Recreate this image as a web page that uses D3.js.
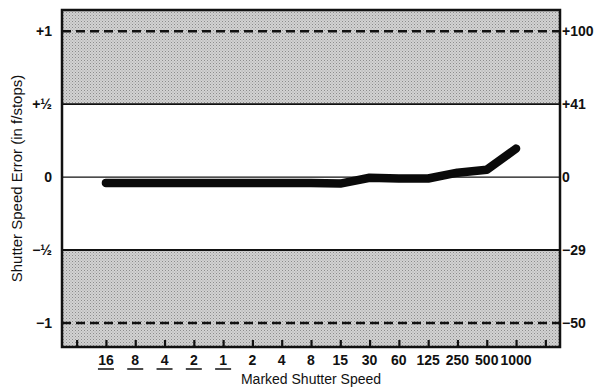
<!DOCTYPE html>
<html>
<head>
<meta charset="utf-8">
<script src="https://d3js.org/d3.v7.min.js"></script>
<style>
	body { margin: 0; background: #fff; }
	svg text { font-family: "Liberation Sans Narrow", "Liberation Sans", Arial, sans-serif; }
</style>
</head>
<body>
<svg id="chart"></svg>
<script>
// marked speeds (underlined ones are whole seconds), blank slots at both ends
var speedLabels = ["", "16", "8", "4", "2", "1", "2", "4", "8", "15", "30", "60", "125", "250", "500", "1000", ""]
var secondsLabels = [1, 2, 3, 4, 5]

// measured error in f/stops, from 16 s to 1/1000
var errorStops = [-0.04, -0.04, -0.04, -0.04, -0.04, -0.04, -0.04, -0.04, -0.045, -0.005, -0.01, -0.01, 0.03, 0.05, 0.195]

var leftTicks = [1, 0.5, 0, -0.5, -1]
var leftLabels = ["+1", "+\u00bd", "0", "\u2212\u00bd", "\u22121"]
var rightLabels = ["+100", "+41", "0", "\u221229", "\u221250"]

var width = 598
var height = 388
var margin = ({top: 10, right: 38, bottom: 41, left: 62})

var x = d3.scalePoint()
	.domain(d3.range(speedLabels.length))
	.range([margin.left, width - margin.right])
	.padding(0.5)

var y = d3.scaleLinear()
	.domain([-1.165, 1.145])
	.range([height - margin.bottom, margin.top])

var svg = d3.select("#chart")
	.attr("width", width)
	.attr("height", height)
	.attr("viewBox", [0, 0, width, height])

// stippled grey for the out-of-tolerance zones
var pat = svg.append("defs").append("pattern")
	.attr("id", "stipple")
	.attr("width", 3)
	.attr("height", 3)
	.attr("patternUnits", "userSpaceOnUse")
pat.append("rect").attr("width", 3).attr("height", 3).attr("fill", "#d2d2d2")
pat.append("rect").attr("width", 1).attr("height", 1).attr("fill", "#8c8c8c")
pat.append("rect").attr("x", 1.5).attr("y", 1.5).attr("width", 1).attr("height", 1).attr("fill", "#a4a4a4")

var x0 = margin.left, x1 = width - margin.right

svg.append("rect")
	.attr("x", x0).attr("y", y.range()[1])
	.attr("width", x1 - x0).attr("height", y(0.5) - y.range()[1])
	.attr("fill", "url(#stipple)")

svg.append("rect")
	.attr("x", x0).attr("y", y(-0.5))
	.attr("width", x1 - x0).attr("height", y.range()[0] - y(-0.5))
	.attr("fill", "url(#stipple)")

// dashed +-1 stop lines
svg.selectAll(".dash")
	.data([1, -1])
	.join("line")
	.attr("x1", x0).attr("x2", x1)
	.attr("y1", d => y(d)).attr("y2", d => y(d))
	.attr("stroke", "#111")
	.attr("stroke-width", 2.5)
	.attr("stroke-dasharray", "9,5")

// solid +-1/2 and zero lines
svg.selectAll(".solid")
	.data([0.5, 0, -0.5])
	.join("line")
	.attr("x1", x0).attr("x2", x1)
	.attr("y1", d => y(d)).attr("y2", d => y(d))
	.attr("stroke", "#111")
	.attr("stroke-width", d => d === 0 ? 1.3 : 1.8)

// frame
svg.append("rect")
	.attr("x", x0).attr("y", y.range()[1])
	.attr("width", x1 - x0).attr("height", y.range()[0] - y.range()[1])
	.attr("fill", "none")
	.attr("stroke", "#111")
	.attr("stroke-width", 2.5)

// ticks pointing up from bottom
var xAxis = g => g
	.attr("transform", `translate(0,${y.range()[0]})`)
	.call(d3.axisTop(x).tickSize(7).tickFormat(""))
	.call(g => g.select(".domain").remove())
	.call(g => g.selectAll(".tick line").attr("stroke", "#111").attr("stroke-width", 2.2))

svg.append("g").call(xAxis)

var xl = svg.append("g")
	.attr("font-size", 14)
	.attr("font-weight", "bold")
	.attr("fill", "#111")
	.attr("text-anchor", "middle")

xl.selectAll("text")
	.data(speedLabels.map((d, i) => ({label: d, i: i})).filter(d => d.label !== ""))
	.join("text")
	.attr("x", d => x(d.i))
	.attr("y", 365)
	.text(d => d.label)

xl.selectAll("line")
	.data(secondsLabels)
	.join("line")
	.attr("x1", d => x(d) - 8).attr("x2", d => x(d) + 8)
	.attr("y1", 369).attr("y2", 369)
	.attr("stroke", "#111")
	.attr("stroke-width", 1.5)

svg.append("text")
	.attr("x", 311)
	.attr("y", 384)
	.attr("text-anchor", "middle")
	.attr("font-size", 14)
	.attr("fill", "#111")
	.text("Marked Shutter Speed")

// left stop labels
svg.append("g")
	.attr("font-size", 14)
	.attr("font-weight", "bold")
	.attr("fill", "#111")
	.attr("text-anchor", "end")
	.selectAll("text")
	.data(leftTicks)
	.join("text")
	.attr("x", 52)
	.attr("y", d => y(d))
	.attr("dy", "0.35em")
	.text((d, i) => leftLabels[i])

// right percentage labels
svg.append("g")
	.attr("font-size", 14)
	.attr("font-weight", "bold")
	.attr("fill", "#111")
	.attr("text-anchor", "start")
	.selectAll("text")
	.data(leftTicks)
	.join("text")
	.attr("x", x1 + 2)
	.attr("y", d => y(d))
	.attr("dy", "0.35em")
	.text((d, i) => rightLabels[i])

svg.append("text")
	.attr("transform", `translate(22,${(y.range()[0] + y.range()[1]) / 2}) rotate(-90)`)
	.attr("text-anchor", "middle")
	.attr("font-size", 15)
	.attr("fill", "#111")
	.text("Shutter Speed Error (in f/stops)")

// the measured curve
var lineFunction = d3.line()
	.x((d, i) => x(i + 1))
	.y(d => y(d))

svg.append("path")
	.attr("fill", "none")
	.attr("stroke", "#0a0a0a")
	.attr("stroke-width", 8.5)
	.attr("stroke-linejoin", "round")
	.attr("stroke-linecap", "round")
	.attr("d", lineFunction(errorStops))
</script>
</body>
</html>
